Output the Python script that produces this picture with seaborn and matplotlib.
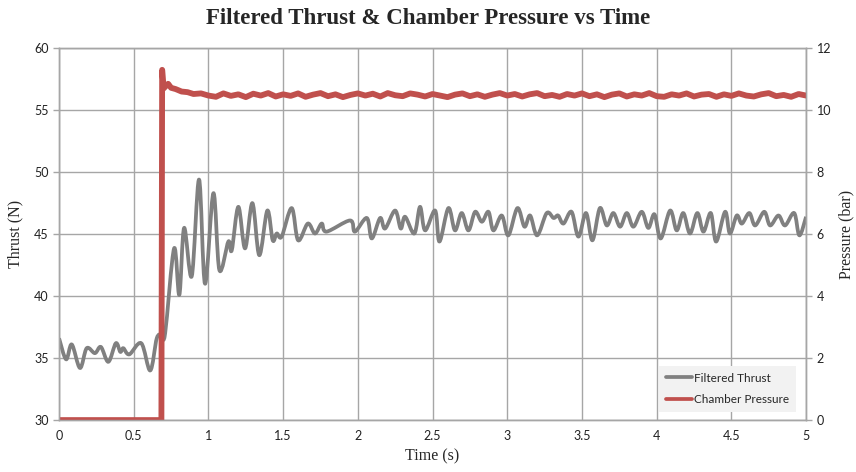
import numpy as np
import pandas as pd
import matplotlib
matplotlib.use("Agg")
import matplotlib.pyplot as plt
import seaborn as sns
from matplotlib.ticker import FuncFormatter
from matplotlib.path import Path
from matplotlib.patches import PathPatch
from matplotlib.lines import Line2D

# thrust (N), peaks and troughs
thrust_t = [0.0, 0.047, 0.085, 0.14, 0.185, 0.24, 0.28, 0.33, 0.38, 0.41, 0.43, 0.47,
            0.55, 0.61, 0.654, 0.687, 0.71, 0.77, 0.805, 0.837, 0.888, 0.937, 0.977,
            1.033, 1.073, 1.133, 1.156, 1.20, 1.245, 1.294, 1.34, 1.394, 1.43, 1.457,
            1.49, 1.557, 1.60, 1.665, 1.713, 1.758, 1.79, 1.948, 1.98, 2.06, 2.093,
            2.149, 2.182, 2.249, 2.287, 2.316, 2.378, 2.416, 2.45, 2.517, 2.546, 2.606,
            2.65, 2.695, 2.74, 2.785, 2.83, 2.874, 2.907, 2.963, 3.007, 3.068, 3.115,
            3.153, 3.2, 3.264, 3.31, 3.34, 3.376, 3.43, 3.476, 3.527, 3.57, 3.62, 3.666,
            3.71, 3.755, 3.8, 3.844, 3.9, 3.944, 3.985, 4.027, 4.09, 4.134, 4.178, 4.223,
            4.272, 4.313, 4.362, 4.398, 4.458, 4.49, 4.536, 4.57, 4.62, 4.659, 4.72,
            4.759, 4.815, 4.859, 4.92, 4.955, 5.0]
thrust_v = [36.6, 34.9, 36.1, 34.2, 35.8, 35.4, 35.9, 34.7, 36.2, 35.5, 35.8, 35.3,
            36.2, 34.0, 36.6, 36.9, 37.0, 43.85, 40.1, 45.5, 41.6, 49.4, 41.0,
            48.3, 42.1, 44.4, 43.7, 47.2, 43.85, 47.5, 43.3, 46.9, 44.5, 45.05,
            44.8, 47.1, 44.5, 45.85, 45.05, 45.85, 45.2, 46.1, 45.2, 46.3, 44.65,
            46.3, 45.45, 46.9, 45.45, 46.4, 45.05, 47.2, 45.3, 46.9, 44.4, 47.1,
            45.3, 46.7, 45.3, 46.8, 46.0, 46.8, 45.3, 46.5, 44.9, 47.1, 45.6,
            46.5, 44.9, 46.7, 46.3, 46.5, 45.85, 46.8, 44.8, 46.7, 44.5, 47.1, 45.7,
            46.7, 45.6, 46.7, 45.6, 46.8, 45.5, 46.6, 44.65, 46.9, 45.3, 46.7, 45.05,
            46.7, 45.2, 46.7, 44.4, 46.8, 45.05, 46.5, 45.85, 46.7, 45.7, 46.8,
            45.7, 46.5, 45.7, 46.7, 44.9, 46.4]

# chamber pressure (bar): ignition transient, then the steady part every 0.05 s
press_start_t = [0.0, 0.685, 0.69, 0.70, 0.715, 0.73, 0.75, 0.78, 0.82, 0.86, 0.90, 0.95, 1.0]
press_start_v = [0.0, 0.0, 11.3, 10.7, 10.78, 10.85, 10.72, 10.68, 10.6, 10.58, 10.52, 10.54, 10.47]
press_steady_v = [10.43, 10.54, 10.46, 10.51, 10.42, 10.53, 10.47, 10.55, 10.44, 10.51,
                  10.46, 10.54, 10.43, 10.50, 10.55, 10.45, 10.51, 10.42, 10.49, 10.54,
                  10.47, 10.53, 10.44, 10.55, 10.48, 10.45, 10.54, 10.50, 10.44, 10.52,
                  10.47, 10.42, 10.50, 10.54, 10.45, 10.51, 10.43, 10.50, 10.55, 10.47,
                  10.52, 10.44, 10.51, 10.55, 10.45, 10.49, 10.43, 10.52, 10.47, 10.54,
                  10.45, 10.51, 10.42, 10.50, 10.54, 10.44, 10.51, 10.47, 10.55, 10.45,
                  10.43, 10.51, 10.47, 10.54, 10.44, 10.50, 10.52, 10.43, 10.51, 10.46,
                  10.54, 10.47, 10.44, 10.51, 10.55, 10.45, 10.49, 10.43, 10.52, 10.47]
press_steady_t = np.round(np.arange(1.05, 5.001, 0.05), 2)

thrust = pd.DataFrame({"Time": thrust_t, "Thrust": thrust_v})
press = pd.DataFrame({"Time": list(press_start_t) + list(press_steady_t),
                      "Pressure": press_start_v + press_steady_v})

sns.set_style("white")
serif = "Liberation Serif"
sans = "Lato"
grid_c = "#A6A6A6"
thrust_c = "#808080"
press_c = "#C0504D"


def smooth_path(x, y):
    # Excel style "smoothed line": Bezier segments through every point
    x = np.asarray(x, float)
    y = np.asarray(y, float)
    pts = np.column_stack([x, y])
    verts = [pts[0]]
    codes = [Path.MOVETO]
    n = len(pts)
    for i in range(n - 1):
        p0 = pts[max(i - 1, 0)]
        p1 = pts[i]
        p2 = pts[i + 1]
        p3 = pts[min(i + 2, n - 1)]
        verts += [p1 + (p2 - p0) / 6, p2 - (p3 - p1) / 6, p2]
        codes += [Path.CURVE4] * 3
    return Path(verts, codes)


fig = plt.figure(figsize=(8.56, 4.72), dpi=100)
ax = fig.add_axes([0.069, 0.110, 0.8727, 0.788])
ax2 = ax.twinx()

sns.lineplot(data=thrust, x="Time", y="Thrust", ax=ax, color=thrust_c, lw=2.7, legend=False)
# redraw the thrust trace smoothed, like the spreadsheet chart
tl = ax.lines[0]
tl.set_visible(False)
ax.add_patch(PathPatch(smooth_path(tl.get_xdata(), tl.get_ydata()), facecolor="none",
                       edgecolor=thrust_c, lw=2.7, joinstyle="round", capstyle="butt"))

sns.lineplot(data=press, x="Time", y="Pressure", ax=ax2, color=press_c, lw=4.2, legend=False)

ax.set_xlim(0, 5)
ax.set_ylim(30, 60)
ax2.set_ylim(0, 12)
ax.set_xticks(np.arange(0, 5.01, 0.5))
ax.set_yticks(np.arange(30, 61, 5))
ax2.set_yticks(np.arange(0, 13, 2))
ax.xaxis.set_major_formatter(FuncFormatter(lambda v, p: f"{v:g}"))

ax.grid(True, color=grid_c, lw=1)
ax.set_axisbelow(True)
for a in (ax, ax2):
    for s in a.spines.values():
        s.set_color(grid_c)
        s.set_linewidth(1)
    a.tick_params(length=4, width=1, color=grid_c, labelsize=9, labelcolor="#222222")
    for lab in a.get_xticklabels() + a.get_yticklabels():
        lab.set_fontfamily(sans)

ax.set_xlabel("Time (s)", fontfamily=serif, fontsize=11.5, labelpad=4)
ax.set_ylabel("Thrust (N)", fontfamily=serif, fontsize=11.5, labelpad=8)
ax2.set_ylabel("Pressure (bar)", fontfamily=serif, fontsize=11.5, labelpad=5)
fig.suptitle("Filtered Thrust & Chamber Pressure vs Time", fontfamily=serif,
             fontweight="bold", fontsize=16.5, y=0.982)

handles = [Line2D([], [], color=thrust_c, lw=2.7), Line2D([], [], color=press_c, lw=2.7)]
ax2.legend(handles, ["Filtered Thrust", "Chamber Pressure"], loc="lower right",
           bbox_to_anchor=(0.995, 0.005), frameon=True, fancybox=False,
           facecolor="#F2F2F2", edgecolor="none", framealpha=1,
           prop={"family": sans, "size": 8.5}, handlelength=2.2,
           handletextpad=0.2, labelspacing=0.9, borderpad=0.6)

fig.savefig("out.png", dpi=100)
